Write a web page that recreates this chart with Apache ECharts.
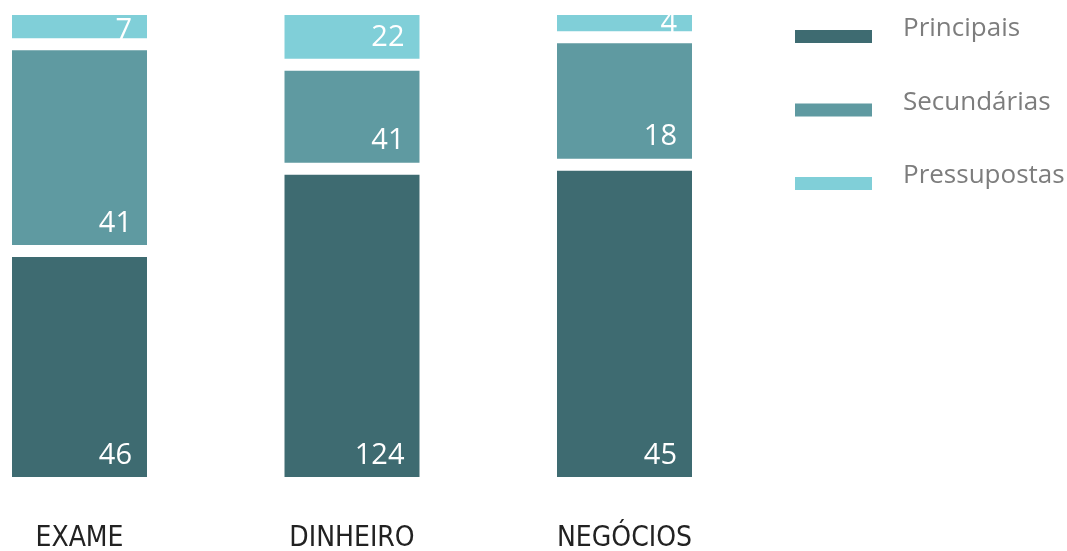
<!DOCTYPE html>
<html>
<head>
<meta charset="utf-8">
<script src="https://cdn.jsdelivr.net/npm/echarts@6/dist/echarts.min.js"></script>
<style>
  html, body { margin: 0; padding: 0; background: #fff; }
  #chart { width: 1067px; height: 551px; }
</style>
</head>
<body>
<div id="chart"></div>
<script>
const categories = ['EXAME', 'DINHEIRO', 'NEGÓCIOS']
const principais = [46, 124, 45]
const secundarias = [41, 41, 18]
const pressupostas = [7, 22, 4]

const colors = ['#3e6b71', '#5f9aa1', '#80cfd8']

// each bar is shown full height: plot the share, label the raw value
const totals = categories.map((c, i) => principais[i] + secundarias[i] + pressupostas[i])
const share = arr => arr.map((v, i) => ({ value: v / totals[i] * 100, raw: v }))

function makeSeries(name, arr, color) {
  return {
    name: name,
    type: 'bar',
    stack: 'all',
    barWidth: 147,
    clip: false,
    data: share(arr),
    itemStyle: { color: color, borderColor: '#fff', borderWidth: 6 },
    label: {
      show: true,
      position: 'insideBottomRight',
      color: '#fff',
      fontFamily: 'Open Sans',
      fontSize: 29,
      formatter: p => p.data.raw
    },
    // number sits in the lower right corner; thin segments get it on the bottom edge
    labelLayout: p => {
      const bottom = p.rect.y + p.rect.height
      return {
        x: p.rect.x + p.rect.width - 21,
        y: p.rect.height < 45 ? bottom + 1 : bottom - 13,
        align: 'right',
        verticalAlign: 'bottom'
      }
    }
  }
}

const legendNames = ['Principais', 'Secundárias', 'Pressupostas']

const chart = echarts.init(document.getElementById('chart'))
chart.setOption({
  animation: false,
  color: colors,
  grid: { left: 79.5, right: 442.5, top: 9, bottom: 68, outerBoundsMode: 'none' },
  legend: [
    {
      // swatches
      data: legendNames,
      orient: 'vertical',
      left: 795,
      top: 30,
      padding: 0,
      itemWidth: 77,
      itemHeight: 13,
      itemGap: 60.5,
      icon: 'rect',
      itemStyle: { borderWidth: 0 },
      formatter: () => '',
      textStyle: { fontSize: 13, lineHeight: 13 }
    },
    {
      // names
      data: legendNames,
      orient: 'vertical',
      left: 898,
      top: 14,
      padding: 0,
      itemWidth: 0,
      itemHeight: 30,
      itemGap: 43.5,
      icon: 'none',
      textStyle: {
        color: '#7d7d7d',
        fontFamily: 'Open Sans',
        fontSize: 26,
        lineHeight: 30
      }
    }
  ],
  xAxis: {
    type: 'category',
    data: categories,
    boundaryGap: false,
    axisLine: { show: false },
    axisTick: { show: false },
    axisLabel: {
      margin: 42,
      color: '#222',
      fontFamily: 'DejaVu Sans Condensed',
      fontSize: 28
    }
  },
  yAxis: {
    type: 'value',
    min: 0,
    max: 100,
    show: false
  },
  series: [
    makeSeries('Principais', principais, colors[0]),
    makeSeries('Secundárias', secundarias, colors[1]),
    makeSeries('Pressupostas', pressupostas, colors[2])
  ]
})
</script>
</body>
</html>
